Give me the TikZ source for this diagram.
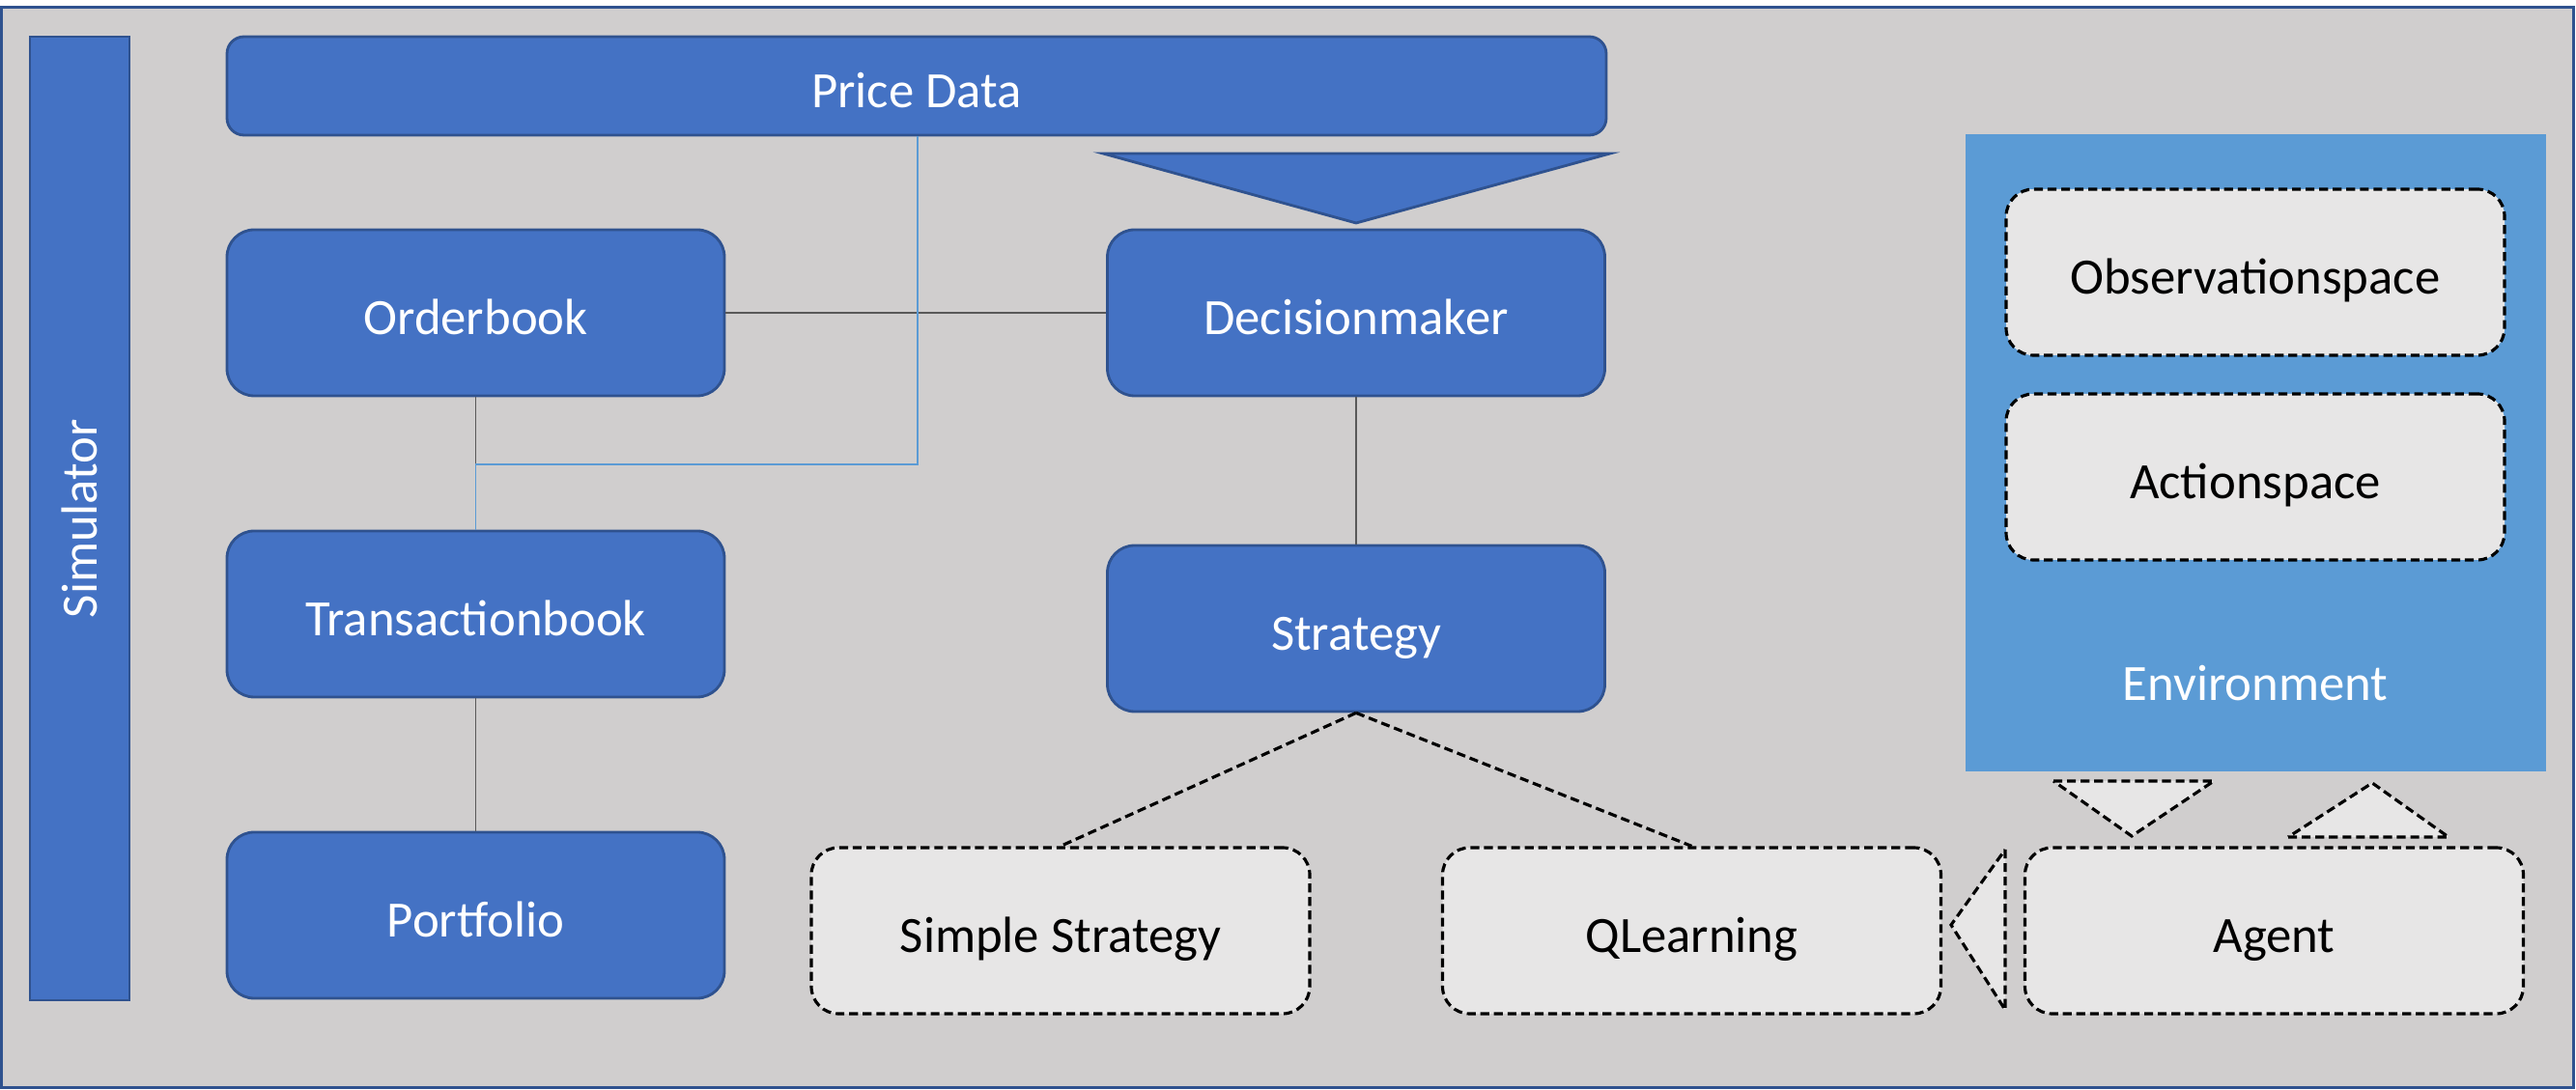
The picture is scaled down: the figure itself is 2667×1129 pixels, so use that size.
\documentclass[tikz,border=0pt]{standalone}
\usepackage{fontspec}
\setmainfont{Carlito}
\usetikzlibrary{positioning}
\definecolor{BlockBlue}{HTML}{4472C4}
\definecolor{BlockEdge}{HTML}{2F528F}
\definecolor{PanelGray}{HTML}{D0CECE}
\definecolor{PaleGray}{HTML}{E7E6E6}
\definecolor{EnvBlue}{HTML}{5B9BD5}
\definecolor{WireGray}{HTML}{595959}

\begin{document}
\begin{tikzpicture}[x=0.1mm, y=-0.1mm,
    block/.style={draw=BlockEdge, fill=BlockBlue, line width=0.8pt, rounded corners=8pt,
      minimum width=5.15cm, minimum height=1.72cm, text=white, text height=12.6pt, text depth=0pt,
      font=\fontsize{15}{18}\selectfont},
    ghost/.style={draw=black, fill=PaleGray, line width=0.9pt, dash pattern=on 2.6pt off 1.4pt,
      rounded corners=8pt, minimum width=5.16cm, minimum height=1.72cm, text height=12.6pt, text depth=0pt,
      font=\fontsize{15}{18}\selectfont},
    pointer/.style={draw=black, fill=PaleGray, line width=0.9pt, dash pattern=on 2.6pt off 1.4pt},
    wire/.style={draw=WireGray, line width=0.5pt},
    feed/.style={draw=EnvBlue, line width=0.5pt},
    branch/.style={draw=black, line width=0.9pt, dash pattern=on 2.6pt off 1.4pt}]

  \useasboundingbox (0,0) rectangle (2667,1129);

  % Outer frame
  \draw[draw=BlockEdge, fill=PanelGray, line width=0.85pt] (1.5,7.5) rectangle (2664.5,1126.5);

  % Simulator and price data
  \node[block, rounded corners=0pt, rotate=90, text height=10.5pt, minimum width=9.98cm, minimum height=1.03cm] (sim) at (82.5,537) {Simulator};
  \node[block, rounded corners=5pt, minimum width=14.28cm, minimum height=1.02cm] (price) at (949,89) {Price Data};

  % Core blocks
  \node[block] (ord) at (492.5,324) {Orderbook};
  \node[block] (dec) at (1404,324) {Decisionmaker};
  \node[block] (trans) at (492.5,636) {Transactionbook};
  \node[block] (strat) at (1404,651) {Strategy};
  \node[block] (port) at (492.5,948) {Portfolio};

  % Price data feeds the decision maker
  \filldraw[fill=BlockBlue, draw=BlockEdge, line width=0.8pt] (1142,159) -- (1667,159) -- (1404,231) -- cycle;

  % Environment
  \node[fill=EnvBlue, minimum width=6.01cm, minimum height=6.6cm, inner sep=0pt] (env) at (2335,469) {};
  \node[ghost] (obs) at (2335,282) {Observationspace};
  \node[ghost] (act) at (2335,494) {Actionspace};
  \node[text=white, text height=12.6pt, text depth=0pt, font=\fontsize{15}{18}\selectfont] (envtxt) at (2335,703) {Environment};

  % Strategy variants and agent
  \node[ghost] (simple) at (1098,964) {Simple Strategy};
  \node[ghost] (qlearn) at (1751.5,964) {QLearning};
  \node[ghost] (agent) at (2354.5,964) {Agent};

  % Agent <-> environment, agent -> qlearning
  \draw[pointer] (2126,809) -- (2292,809) -- (2207,866) -- cycle;
  \draw[pointer] (2369,867) -- (2535,867) -- (2456,811) -- cycle;
  \draw[pointer] (2076,880) -- (2076,1046) -- (2020,958) -- cycle;

  % Connections
  \draw[wire] (ord) -- (dec);
  \draw[wire] (ord) -- (trans);
  \draw[wire] (trans) -- (port);
  \draw[wire] (dec) -- (strat);
  \coordinate (tap) at (950,481);
  \draw[feed] (price.south -| tap) -- (tap) -- (tap -| trans.north) -- (trans.north);
  \draw[branch] (strat.south) -- (simple.north);
  \draw[branch] (strat.south) -- (qlearn.north);
\end{tikzpicture}
\end{document}
